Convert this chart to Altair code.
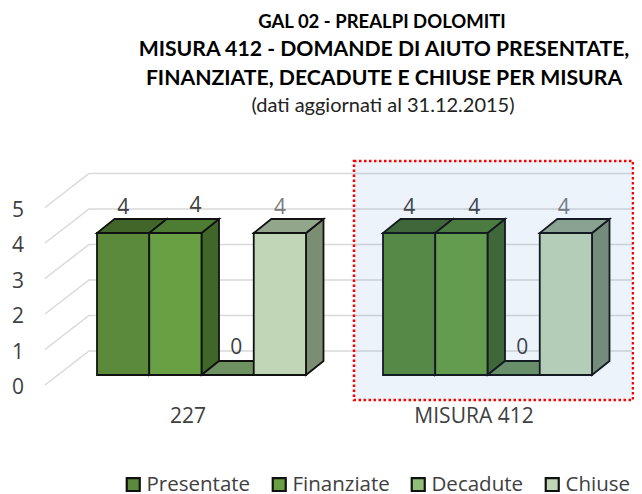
import altair as alt
import pandas as pd

groups = ["227", "MISURA 412"]
series = ["Presentate", "Finanziate", "Decadute", "Chiuse"]
values = [[4, 4, 0, 4], [4, 4, 0, 4]]
front_colors = ["#5a8a3a", "#68a043", "#92bf78", "#c0d6b6"]
top_colors = ["#41662a", "#4d7c33", "#6d9160", "#92a68c"]
side_colors = ["#41662a", "#41662a", "#6d9160", "#7b8e74"]
ticks = [0, 1, 2, 3, 4, 5]
title_lines = ["GAL 02 - PREALPI DOLOMITI",
               "MISURA 412 - DOMANDE DI AIUTO PRESENTATE,",
               "FINANZIATE, DECADUTE E CHIUSE  PER MISURA"]
subtitle = "(dati aggiornati al 31.12.2015)"
label_shift_x = [[0.0, 0.07, 0.03, 0.0], [0.0, 0.045, 0.03, -0.007]]
label_shift_y = [[0.0, 0.08, 0.0, 0.0], [0.0, 0.0, 0.0, 0.0]]

# layout in data units: one x unit is one group pitch, one y unit is one count
FONT = "Open Sans"
TITLE_FONT = "Lato"
PX, PY = 286.0, 35.5
BAR = 52.25 / PX
DX, DY = 17.5 / PX, 14 / PY
xs = alt.Scale(domain=[(8 - 97) / PX, (634 - 97) / PX], range=[0, 626], nice=False, zero=False)
ys = alt.Scale(domain=[(375 - 492) / PY, (375 - 8) / PY], range=[484, 0], nice=False, zero=False)
X = lambda f, **k: alt.X(f, type="quantitative", scale=xs, axis=None, stack=None, **k)
Y = lambda f, **k: alt.Y(f, type="quantitative", scale=ys, axis=None, stack=None, **k)

front, side, top, labels = [], [], [], []
for g, name in enumerate(groups):
    for s, sname in enumerate(series):
        v = values[g][s]
        x0 = g + s * BAR
        x1 = x0 + BAR
        front.append(dict(series=sname, x=x0, x2=x1, y=0, y2=v))
        fid = f"{g}-{s}"
        side += [dict(f=fid, fill=side_colors[s], x=x1, y=0, y2=v),
                 dict(f=fid, fill=side_colors[s], x=x1 + DX, y=DY, y2=v + DY)]
        top += [dict(f=fid, fill=top_colors[s], y=v, x=x0, x2=x1),
                dict(f=fid, fill=top_colors[s], y=v + DY, x=x0 + DX, x2=x1 + DX)]
        labels.append(dict(t=str(v), x=(x0 + x1) / 2 + label_shift_x[g][s],
                           y=v + 0.75 + label_shift_y[g][s] if v else 0.82,
                           c="#7a7a7a" if s == 3 else "#404040"))

grid = []
for t in ticks:
    front_y = t - 10 / PY
    back_y = front_y + 34 / PY
    grid += [dict(t=t, o=0, x=(45 - 97) / PX, y=front_y),
             dict(t=t, o=1, x=(89 - 97) / PX, y=back_y),
             dict(t=t, o=2, x=(632 - 97) / PX, y=back_y)]

tick_df = pd.DataFrame([dict(t=str(t), x=(18 - 97) / PX, y=t - 10 / PY) for t in ticks])
cat_df = pd.DataFrame([dict(t=n, x=c, y=(375 - 415) / PY) for n, c in zip(groups, [(188 - 97) / PX, (474 - 97) / PX])])
title_x = (384 - 97) / PX
title_df = pd.DataFrame([dict(t=title_lines[0], x=(382 - 97) / PX, y=(375 - 22) / PY, s=18.5),
                         dict(t=title_lines[1], x=title_x, y=(375 - 50) / PY, s=21.2),
                         dict(t=title_lines[2], x=title_x, y=(375 - 79) / PY, s=21.2)])
sub_df = pd.DataFrame([dict(t=subtitle, x=(383 - 97) / PX, y=(375 - 106) / PY)])
panel_df = pd.DataFrame([dict(x=(354 - 97) / PX, x2=(633 - 97) / PX, y=(375 - 400) / PY, y2=(375 - 161) / PY)])

grid_l = alt.Chart(pd.DataFrame(grid)).mark_line(color="#d9d9d9", strokeWidth=1.5).encode(
    X("x"), Y("y"), detail="t:N", order="o:Q")
side_l = alt.Chart(pd.DataFrame(side)).mark_area(orient="vertical", stroke="#111111", strokeWidth=1.8).encode(
    X("x"), Y("y"), y2="y2:Q", fill=alt.Fill("fill:N", scale=None), detail="f:N")
top_l = alt.Chart(pd.DataFrame(top)).mark_area(orient="horizontal", stroke="#111111", strokeWidth=1.8).encode(
    X("x"), alt.X2("x2:Q"), Y("y"), fill=alt.Fill("fill:N", scale=None), detail="f:N")
front_l = alt.Chart(pd.DataFrame(front)).mark_rect(stroke="#111111", strokeWidth=1.8).encode(
    X("x"), x2="x2:Q", y=Y("y"), y2="y2:Q",
    fill=alt.Fill("series:N",
                  scale=alt.Scale(domain=series, range=front_colors),
                  legend=alt.Legend(title=None, orient="none", legendX=115, legendY=466,
                                    direction="horizontal", columns=4, symbolType="square",
                                    symbolSize=169, symbolStrokeColor="#000000",
                                    symbolStrokeWidth=2.2, labelFont=FONT, labelFontSize=20.5,
                                    labelColor="#404040", labelOffset=3, columnPadding=17,
                                    symbolOpacity=1, labelLimit=200)))
label_l = alt.Chart(pd.DataFrame(labels)).mark_text(font=FONT, fontSize=21, dy=2).encode(
    X("x"), Y("y"), text="t:N", color=alt.Color("c:N", scale=None))
tick_l = alt.Chart(tick_df).mark_text(font=FONT, fontSize=21, color="#404040", dy=3).encode(X("x"), Y("y"), text="t:N")
cat_l = alt.Chart(cat_df).mark_text(font=FONT, fontSize=21, color="#404040", dy=2).encode(X("x"), Y("y"), text="t:N")
title_l = alt.Chart(title_df).mark_text(font=TITLE_FONT, fontWeight="bold", color="#000000").encode(
    X("x"), Y("y"), text="t:N", size=alt.Size("s:Q", scale=None, legend=None))
sub_l = alt.Chart(sub_df).mark_text(font=TITLE_FONT, fontSize=20, color="#222222").encode(X("x"), Y("y"), text="t:N")
panel_l = alt.Chart(panel_df).mark_rect(fill="#3a78d0", fillOpacity=0.09, stroke="#ff0000",
                                        strokeWidth=2.5, strokeDash=[2.5, 2.5]).encode(
    X("x"), x2="x2:Q", y=Y("y"), y2="y2:Q")

chart = alt.layer(
    grid_l, side_l, top_l, front_l, label_l, tick_l, cat_l, title_l, sub_l, panel_l
).properties(width=626, height=484, padding=0, autosize=alt.AutoSizeParams(type="none")).configure_view(stroke=None)

chart.save("out.html", embed_options={"renderer": "svg", "actions": False})
